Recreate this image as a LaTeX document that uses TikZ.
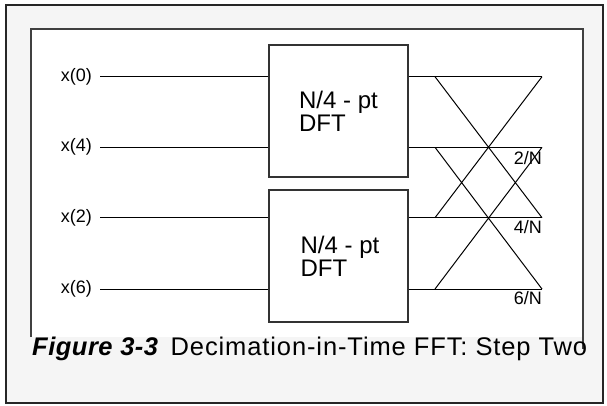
\documentclass[tikz,border=0pt]{standalone}
\usepackage{fontspec}
\setmainfont{Liberation Sans}
\begin{document}
\begin{tikzpicture}[x=1pt,y=-1pt,line join=miter,font=\fontsize{18}{18}\selectfont,
		dftbox/.style={draw=black!80,line width=1.5pt,fill=white,minimum width=139pt,minimum height=132pt,inner sep=0pt,align=left,font=\fontsize{24}{23}\selectfont},
		inlabel/.style={anchor=east,inner sep=4pt},
		wlabel/.style={anchor=north east,inner sep=0pt},
		wire/.style={line width=1pt}]
			\def\xin{100}
			\def\xcr{435}
			\def\xout{542}
			\useasboundingbox (0,0) rectangle (607,405);
			\fill [white] (0,0) rectangle (607,405);
			\filldraw [fill=black!4,draw=black!85,line width=2pt] (5.5,5) rectangle (603,403);
			\fill [white] (31,29) rectangle (583,337);
			\draw [black!75,line width=1.2pt] (31,337)--(31,29)--(583,29)--(583,349);
			\node [dftbox] (dft1) at (338.5,111) {N/4 - pt\\DFT};
			\node [dftbox] (dft2) at (338.5,256) {\hspace{3pt}N/4 - pt\\\hspace{3pt}DFT};
			\foreach \n/\y/\b in {0/76.7/dft1,4/147.3/dft1,2/217.7/dft2,6/289/dft2} {
				\node [inlabel] (in\n) at (\xin-4,\y) {x(\n)};
				\coordinate (c\n) at (\xcr,\y);
				\coordinate (o\n) at (\xout,\y);
				\draw [wire] ([xshift=4pt]in\n.east) -- (in\n -| \b.west);
				\draw [wire] (in\n -| \b.east) -- (o\n);
			}
			\draw [wire] (c0)--(o2) (c2)--(o0) (c4)--(o6) (c6)--(o4);
			\node [wlabel] (w2) at ([yshift=-4pt]o4) {2/N};
			\node [wlabel] (w4) at ([yshift=-2.5pt]o2) {4/N};
			\node [wlabel] (w6) at ([yshift=-2.5pt]o6) {6/N};
			\node [anchor=base west,inner sep=0pt,font=\fontsize{25.5}{25.5}\selectfont] (cap) at (32,355) {{\addfontfeature{LetterSpace=2}\textbf{\textit{Figure 3-3}}}\hspace{12pt}{\addfontfeature{LetterSpace=3.5}Decimation-in-Time FFT: Step Two}};
		\end{tikzpicture}
\end{document}
